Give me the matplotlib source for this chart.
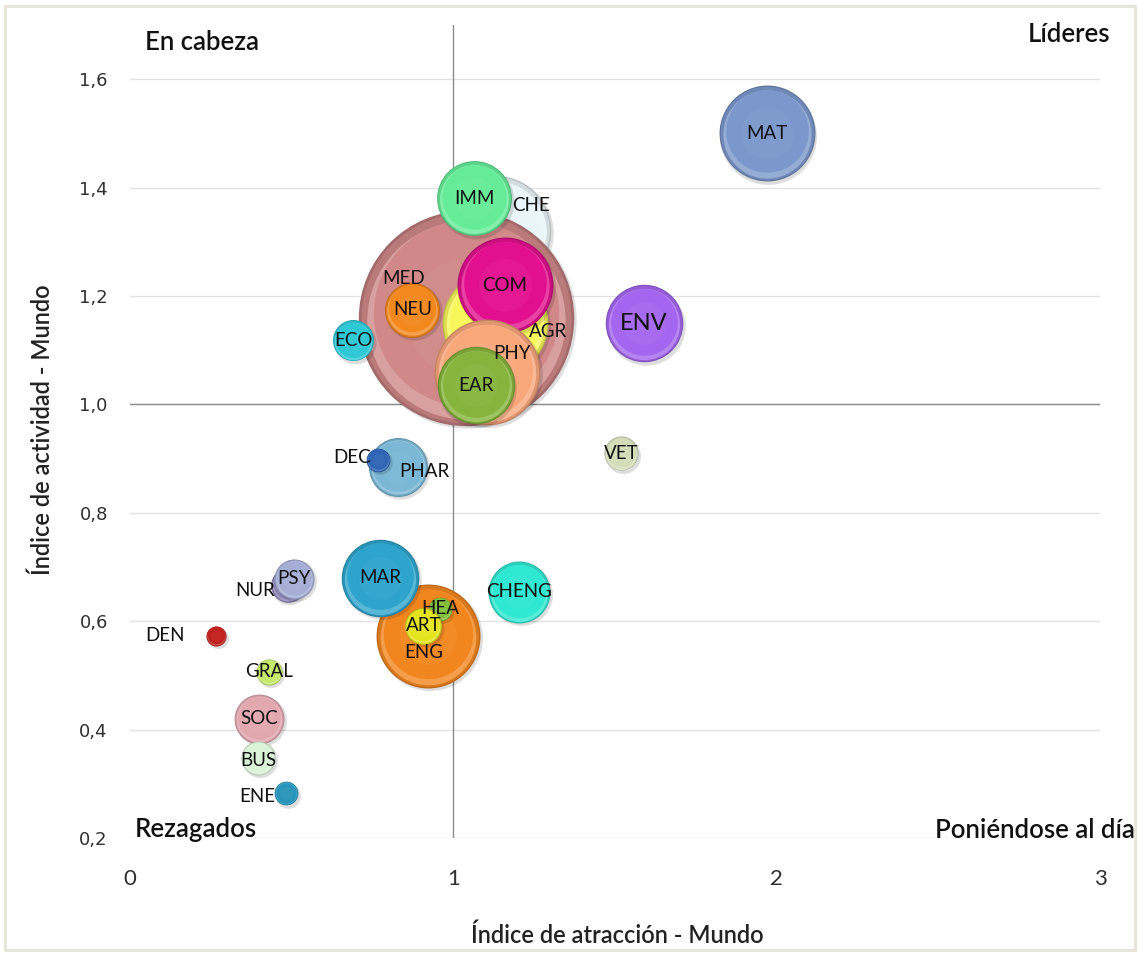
import numpy as np
import matplotlib
matplotlib.use("Agg")
import matplotlib.pyplot as plt
from matplotlib.colors import to_rgb
from matplotlib.transforms import offset_copy
from matplotlib.patches import Rectangle

# --- data (drawing order: back to front) ---
areas = ["CHE", "MED", "IMM", "AGR", "COM", "PHY", "EAR", "NEU", "ECO",
         "MAT", "ENV", "VET", "PHAR", "DEC", "ENG", "MAR", "HEA", "ART",
         "NUR", "PSY", "DEN", "GRAL", "SOC", "BUS", "ENE", "CHENG"]
atraccion = [1.13, 1.04, 1.065, 1.13, 1.16, 1.105, 1.07, 0.873, 0.69,
             1.97, 1.59, 1.52, 0.83, 0.768, 0.923, 0.774, 0.96, 0.907,
             0.488, 0.508, 0.266, 0.43, 0.399, 0.396, 0.483, 1.204]
actividad = [1.32, 1.16, 1.38, 1.15, 1.22, 1.06, 1.035, 1.175, 1.118,
             1.50, 1.15, 0.91, 0.885, 0.898, 0.573, 0.68, 0.623, 0.592,
             0.667, 0.678, 0.573, 0.507, 0.42, 0.348, 0.283, 0.654]
volumen = [31, 116, 14, 28, 23, 28, 15, 7.6, 4.2,
           23, 15, 2.9, 8.7, 1.4, 27, 15, 1.4, 3.4,
           3.0, 4.0, 1.0, 1.7, 6.2, 2.9, 1.4, 9.6]

x_ticks = [0, 1, 2, 3]
x_tick_labels = ["0", "1", "2", "3"]
y_ticks = [0.2, 0.4, 0.6, 0.8, 1.0, 1.2, 1.4, 1.6]
y_tick_labels = ["0,2", "0,4", "0,6", "0,8", "1,0", "1,2", "1,4", "1,6"]

# --- styling ---
colores = {
    "CHE": "#eaf5f9", "MED": "#d08888", "IMM": "#66ec98", "AGR": "#f7f75c",
    "COM": "#e2108e", "PHY": "#f9a87c", "EAR": "#86b43c", "NEU": "#f2881e",
    "ECO": "#2ec8d6", "MAT": "#7b97cb", "ENV": "#a466ee", "VET": "#d5dcb8",
    "PHAR": "#7ab8d6", "DEC": "#2f64b4", "ENG": "#f2861e", "MAR": "#2ea4cc",
    "HEA": "#84c03c", "ART": "#e4e41e", "NUR": "#8c84b4", "PSY": "#a6aed6",
    "DEN": "#c0201e", "GRAL": "#c6e86a", "SOC": "#e2a8b0", "BUS": "#dbf3d8",
    "ENE": "#2896ba", "CHENG": "#2ee8d2",
}
# label offsets in pixels (dx right, dy down) from bubble centre
desplazamiento = {
    "MED": (-63, -39), "CHE": (36, -25), "AGR": (53, 8), "PHY": (25, -18),
    "DEC": (-26, -2), "PHAR": (26, 5), "NUR": (-33, 6), "ENG": (-5, 17),
    "DEN": (-51, 0), "ENE": (-29, 3), "BUS": (0, 3),
}
tam_etiqueta = {"ENV": 17}

DPI = 100
W, H = 1139, 956
fig = plt.figure(figsize=(W / DPI, H / DPI), dpi=DPI)
fig.patch.set_facecolor("white")

left, right, top, bottom = 130, 1100, 25, 838
ax = fig.add_axes([left / W, 1 - bottom / H, (right - left) / W, (bottom - top) / H])
ax.set_xlim(0, 3)
ax.set_ylim(0.2, 1.7)
for s in ax.spines.values():
    s.set_visible(False)

ax.set_yticks(y_ticks)
ax.set_yticklabels(y_tick_labels, family="DejaVu Sans", fontsize=13, color="#303030")
ax.set_xticks(x_ticks)
ax.set_xticklabels(x_tick_labels, family=["Liberation Sans Narrow", "Lato"],
                   fontsize=16, color="#303030")
ax.tick_params(axis="y", length=0, pad=16)
ax.tick_params(axis="x", length=0, pad=22)
ax.yaxis.grid(True, color="#e2e2e2", lw=1)
ax.set_axisbelow(True)
ax.axhline(1.0, color="#8a8a8a", lw=1, zorder=1)
ax.axvline(1.0, color="#8a8a8a", lw=1, zorder=1)


def pts2(r_px):
    d = 2 * r_px * 72 / DPI
    return d * d


def capa(x, y, r, col, z, dy=0.0, alpha=1.0):
    tr = offset_copy(ax.transData, fig=fig, x=0, y=dy, units="dots")
    ax.scatter([x], [y], s=pts2(r), color=np.clip(col, 0, 1), alpha=alpha,
               linewidths=0, transform=tr, zorder=z)


def burbuja(x, y, r, color, z):
    base = np.array(to_rgb(color))
    blanco = np.ones(3)
    # soft drop shadow
    tr = offset_copy(ax.transData, fig=fig, x=1.5, y=-2.5, units="dots")
    ax.scatter([x], [y], s=pts2(r + 0.5), color="black", alpha=0.13,
               linewidths=0, transform=tr, zorder=z)
    # thin bevelled rim
    capa(x, y, r, base * 0.78, z + 0.001)
    capa(x, y, r * 0.975, base * 0.9, z + 0.002)
    # lighter lower crescent
    capa(x, y, r * 0.92, base * 0.8 + blanco * 0.2, z + 0.003, dy=-r * 0.02)
    # main body
    capa(x, y, r * 0.86, base, z + 0.004, dy=r * 0.04)
    capa(x, y, r * 0.55, base * 0.94 + blanco * 0.06, z + 0.005, dy=r * 0.0, alpha=0.6)


for i, nombre in enumerate(areas):
    r = 10 * np.sqrt(volumen[i])
    burbuja(atraccion[i], actividad[i], r, colores[nombre], 2 + 0.1 * i)

for i, nombre in enumerate(areas):
    dx, dy = desplazamiento.get(nombre, (0, 0))
    tr = offset_copy(ax.transData, fig=fig, x=dx, y=-dy, units="dots")
    ax.text(atraccion[i], actividad[i], nombre, transform=tr, ha="center",
            va="center", family="Lato", fontsize=tam_etiqueta.get(nombre, 13.5),
            color="#111111", zorder=50)

# quadrant names
cuad = dict(family="Lato", fontsize=18.5, color="#111111", weight="semibold")
fig.text(145 / W, 1 - 43 / H, "En cabeza", ha="left", va="center", **cuad)
fig.text(1110 / W, 1 - 35 / H, "Líderes", ha="right", va="center", **cuad)
fig.text(135 / W, 1 - 830 / H, "Rezagados", ha="left", va="center", **cuad)
fig.text(1135 / W, 1 - 831 / H, "Poniéndose al día", ha="right", va="center", **cuad)

# axis titles
tit = dict(family="Lato", fontsize=17, color="#222222", weight="semibold")
fig.text(617 / W, 1 - 935 / H, "Índice de atracción - Mundo", ha="center", va="center", **tit)
fig.text(42 / W, 1 - 430 / H, "Índice de actividad - Mundo", ha="center", va="center",
         rotation=90, **tit)

fig.patches.append(Rectangle((5 / W, 6 / H), 1130 / W, 944 / H, transform=fig.transFigure,
                             fill=False, edgecolor="#e6e4d6", lw=2))

fig.savefig("out.png", dpi=DPI)
